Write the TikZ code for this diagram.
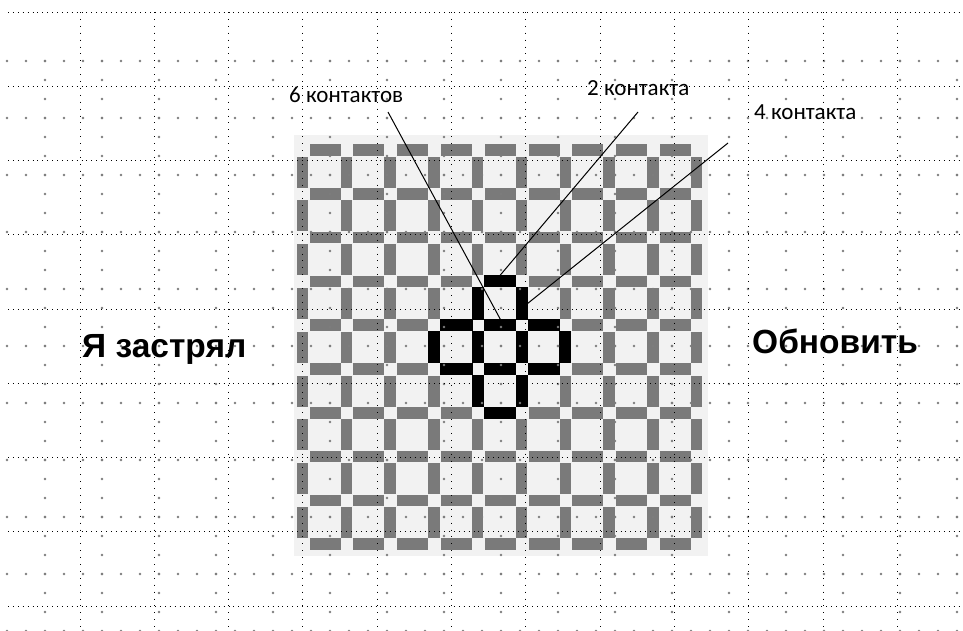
\documentclass[tikz,border=0pt]{standalone}
\usepackage{fontspec}
\newfontfamily\calfont{Carlito}
\newfontfamily\arialfont{Liberation Sans}
\usetikzlibrary{positioning}
\definecolor{cellbg}{RGB}{242,242,242}
\definecolor{barc}{RGB}{122,122,122}
\definecolor{dotc}{RGB}{125,125,125}
\tikzset{
  hbar/.style={rectangle,inner sep=0pt,minimum width=31pt,minimum height=11.5pt,fill=barc},
  vbar/.style={rectangle,inner sep=0pt,minimum width=11.5pt,minimum height=31pt,fill=barc},
  hot/.style={fill=black,minimum width=+0pt},
  hline/.style={line width=0.9pt,dash pattern=on 0.9pt off 4pt},
  vline/.style={line width=0.9pt,dash pattern=on 0.9pt off 6pt},
  dotrow/.style={dotc,line width=2.8pt,line cap=round,dash pattern=on 0pt off 19pt},
  lab/.style={inner sep=0pt,anchor=base west,font=\calfont\fontsize{23}{27}\selectfont},
  big/.style={inner sep=0pt,anchor=base west,font=\arialfont\bfseries\fontsize{33.5}{38}\selectfont},
  lead/.style={line width=1pt}
}
\begin{document}
\begin{tikzpicture}[x=1pt,y=-1pt]
  \useasboundingbox (0,0) rectangle (963,630);
  % board
  \fill[cellbg] (294,135) rectangle (708,556);
  \foreach \i in {0,...,8} \foreach \j in {0,...,9}
    \node[hbar] (h-\i-\j) at ({325+43.8*\i},{150+43.8*\j}) {};
  \foreach \i in {0,...,9} \foreach \j in {0,...,8}
    \node[vbar] (v-\i-\j) at ({302.5+43.8*\i},{172+43.8*\j}) {};
  % the cross of five cells
  \foreach \i/\j in {4/3,3/4,4/4,5/4,3/5,4/5,5/5,4/6}
    \node[hbar,fill=black,minimum width=32.5pt,minimum height=12pt] (hx-\i-\j) at ({325+43.8*\i},{150+43.8*\j}) {};
  \foreach \i/\j in {4/3,5/3,3/4,4/4,5/4,6/4,4/5,5/5}
    \node[vbar,fill=black,minimum width=12pt,minimum height=32.5pt] (vx-\i-\j) at ({302.5+43.8*\i},{172+43.8*\j}) {};
  % paper grid
  \foreach \b in {0,...,10}
    \draw[dotrow] (7,{61+57*\b}) -- (963,{61+57*\b});
  \foreach \c in {0,...,16}
    \draw[dotrow] ({45+57*\c},61) -- ({45+57*\c},630);
  \foreach \k in {0,...,8}
    \draw[hline] (8,{12+74.25*\k}) -- (963,{12+74.25*\k});
  \foreach \k in {0,...,11}
    \draw[vline] ({80+74.3*\k},12) -- ({80+74.3*\k},630);
  % labels
  \node[lab] (t6) at (289,102) {6 контактов};
  \node[lab] (t2) at (587,95) {2 контакта};
  \node[lab] (t4) at (754,119) {4 контакта};
  \node[big] (stuck) at (82,357) {Я застрял};
  \node[big] (renew) at (752,353) {Обновить};
  % leads
  \coordinate (p6) at (388,112);
  \coordinate (p2) at (638,112);
  \coordinate (p4) at (728,143);
  \draw[lead] (p6) -- (hx-4-4.north);
  \draw[lead] (p2) -- (hx-4-3.north);
  \draw[lead] (p4) -- (vx-5-3.east);
\end{tikzpicture}
\end{document}
